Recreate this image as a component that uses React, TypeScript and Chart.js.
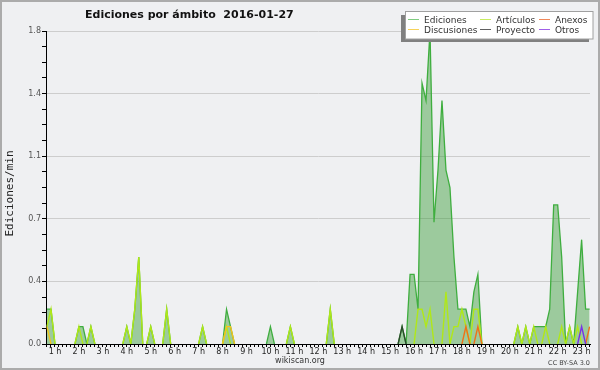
import React, { useEffect, useRef } from 'react';
import { Chart, registerables } from 'chart.js';

Chart.register(...registerables);

const titleText = 'Ediciones por ámbito  2016-01-27';
const yAxisTitle = 'Ediciones/min';
const footerLeft = 'wikiscan.org';
const footerRight = 'CC BY-SA 3.0';

// x tick labels (one every 6 points of 10 minutes)
const hourLabels = [
  '1 h', '2 h', '3 h', '4 h', '5 h', '6 h', '7 h', '8 h', '9 h', '10 h', '11 h', '12 h',
  '13 h', '14 h', '15 h', '16 h', '17 h', '18 h', '19 h', '20 h', '21 h', '22 h', '23 h',
];

// y axis major ticks and labels
const yMajorTicks = [0, 0.36, 0.72, 1.08, 1.44, 1.8];
const yTickLabels = ['0.0', '0.4', '0.7', '1.1', '1.4', '1.8'];

const seriesNames = ['Ediciones', 'Artículos', 'Anexos', 'Discusiones', 'Proyecto', 'Otros'];

// 10-minute samples, edits per minute
const ediciones = [
  0.2, 0.2, 0, 0, 0, 0, 0, 0, 0.1, 0.1, 0, 0.1,
  0, 0, 0, 0, 0, 0, 0, 0, 0.1, 0, 0.2, 0.5,
  0, 0, 0.1, 0, 0, 0, 0.2, 0, 0, 0, 0, 0,
  0, 0, 0, 0.1, 0, 0, 0, 0, 0, 0.2, 0.1, 0,
  0, 0, 0, 0, 0, 0, 0, 0, 0.1, 0, 0, 0,
  0, 0.1, 0, 0, 0, 0, 0, 0, 0, 0, 0, 0.2,
  0, 0, 0, 0, 0, 0, 0, 0, 0, 0, 0, 0,
  0, 0, 0, 0, 0, 0.1, 0, 0.4, 0.4, 0.2, 1.5, 1.4,
  1.8, 0.7, 1.0, 1.4, 1.0, 0.9, 0.5, 0.2, 0.2, 0.2, 0.1, 0.3,
  0.4, 0, 0, 0, 0, 0, 0, 0, 0, 0, 0.1, 0,
  0.1, 0, 0.1, 0.1, 0.1, 0.1, 0.2, 0.8, 0.8, 0.5, 0, 0.1,
  0, 0.3, 0.6, 0.2, 0.2,
];

const articulos = [
  0.1, 0.2, 0, 0, 0, 0, 0, 0, 0.1, 0, 0, 0.1,
  0, 0, 0, 0, 0, 0, 0, 0, 0.1, 0, 0.2, 0.5,
  0, 0, 0.1, 0, 0, 0, 0.2, 0, 0, 0, 0, 0,
  0, 0, 0, 0.1, 0, 0, 0, 0, 0, 0.1, 0, 0,
  0, 0, 0, 0, 0, 0, 0, 0, 0, 0, 0, 0,
  0, 0.1, 0, 0, 0, 0, 0, 0, 0, 0, 0, 0.2,
  0, 0, 0, 0, 0, 0, 0, 0, 0, 0, 0, 0,
  0, 0, 0, 0, 0, 0, 0, 0, 0, 0.2, 0.2, 0.1,
  0.2, 0, 0, 0, 0.3, 0, 0.1, 0.1, 0.2, 0.1, 0, 0.2,
  0.2, 0, 0, 0, 0, 0, 0, 0, 0, 0, 0.1, 0,
  0.1, 0, 0.1, 0, 0, 0.1, 0, 0, 0, 0.1, 0, 0.1,
  0, 0.1, 0, 0, 0,
];

const anexos = [
  0, 0, 0, 0, 0, 0, 0, 0, 0, 0, 0, 0,
  0, 0, 0, 0, 0, 0, 0, 0, 0, 0, 0, 0,
  0, 0, 0, 0, 0, 0, 0, 0, 0, 0, 0, 0,
  0, 0, 0, 0, 0, 0, 0, 0, 0, 0, 0, 0,
  0, 0, 0, 0, 0, 0, 0, 0, 0, 0, 0, 0,
  0, 0, 0, 0, 0, 0, 0, 0, 0, 0, 0, 0,
  0, 0, 0, 0, 0, 0, 0, 0, 0, 0, 0, 0,
  0, 0, 0, 0, 0, 0, 0, 0, 0, 0, 0, 0,
  0, 0, 0, 0, 0, 0, 0, 0, 0, 0.1, 0, 0,
  0.1, 0, 0, 0, 0, 0, 0, 0, 0, 0, 0, 0,
  0, 0, 0, 0, 0, 0, 0, 0, 0, 0, 0, 0,
  0, 0, 0, 0, 0.1,
];

const discusiones = [
  0.1, 0, 0, 0, 0, 0, 0, 0, 0, 0, 0, 0,
  0, 0, 0, 0, 0, 0, 0, 0, 0, 0, 0, 0,
  0, 0, 0, 0, 0, 0, 0, 0, 0, 0, 0, 0,
  0, 0, 0, 0, 0, 0, 0, 0, 0, 0.1, 0.1, 0,
  0, 0, 0, 0, 0, 0, 0, 0, 0, 0, 0, 0,
  0, 0, 0, 0, 0, 0, 0, 0, 0, 0, 0, 0,
  0, 0, 0, 0, 0, 0, 0, 0, 0, 0, 0, 0,
  0, 0, 0, 0, 0, 0, 0, 0, 0, 0, 0, 0,
  0, 0, 0, 0, 0, 0, 0, 0, 0, 0, 0, 0,
  0, 0, 0, 0, 0, 0, 0, 0, 0, 0, 0, 0,
  0, 0, 0, 0, 0, 0, 0, 0, 0, 0, 0, 0,
  0, 0, 0, 0, 0,
];

const proyecto = [
  0, 0, 0, 0, 0, 0, 0, 0, 0, 0, 0, 0,
  0, 0, 0, 0, 0, 0, 0, 0, 0, 0, 0, 0,
  0, 0, 0, 0, 0, 0, 0, 0, 0, 0, 0, 0,
  0, 0, 0, 0, 0, 0, 0, 0, 0, 0, 0, 0,
  0, 0, 0, 0, 0, 0, 0, 0, 0, 0, 0, 0,
  0, 0, 0, 0, 0, 0, 0, 0, 0, 0, 0, 0,
  0, 0, 0, 0, 0, 0, 0, 0, 0, 0, 0, 0,
  0, 0, 0, 0, 0, 0.1, 0, 0, 0, 0, 0, 0,
  0, 0, 0, 0, 0, 0, 0, 0, 0, 0, 0, 0,
  0, 0, 0, 0, 0, 0, 0, 0, 0, 0, 0, 0,
  0, 0, 0, 0, 0, 0, 0, 0, 0, 0, 0, 0,
  0, 0, 0, 0, 0,
];

const otros = [
  0, 0, 0, 0, 0, 0, 0, 0, 0, 0, 0, 0,
  0, 0, 0, 0, 0, 0, 0, 0, 0, 0, 0, 0,
  0, 0, 0, 0, 0, 0, 0, 0, 0, 0, 0, 0,
  0, 0, 0, 0, 0, 0, 0, 0, 0, 0, 0, 0,
  0, 0, 0, 0, 0, 0, 0, 0, 0, 0, 0, 0,
  0, 0, 0, 0, 0, 0, 0, 0, 0, 0, 0, 0,
  0, 0, 0, 0, 0, 0, 0, 0, 0, 0, 0, 0,
  0, 0, 0, 0, 0, 0, 0, 0, 0, 0, 0, 0,
  0, 0, 0, 0, 0, 0, 0, 0, 0, 0, 0, 0,
  0, 0, 0, 0, 0, 0, 0, 0, 0, 0, 0, 0,
  0, 0, 0, 0, 0, 0, 0, 0, 0, 0, 0, 0,
  0, 0, 0.1, 0, 0,
];

const lineColors = ['#3fae3f', '#b0e818', '#f07018', '#f4c41c', '#2b4a2b', '#7832e6'];
const legendColors = ['#80cc80', '#c8ec60', '#f0885a', '#f6d25a', '#606060', '#a060e8'];

const toXY = (arr: number[]) => arr.map((y, x) => ({ x, y }));

const hideZero = {
  borderColor: (c: any) =>
    c.p0.parsed.y === 0 && c.p1.parsed.y === 0 ? 'rgba(0,0,0,0)' : undefined,
};

const decorPlugin = {
  id: 'decor',
  beforeDraw(chart: any) {
    const ctx = chart.ctx;
    ctx.save();
    ctx.fillStyle = '#eff0f2';
    ctx.fillRect(0, 0, chart.width, chart.height);
    ctx.strokeStyle = '#ababab';
    ctx.lineWidth = 2;
    ctx.strokeRect(1, 1, chart.width - 2, chart.height - 2);
    ctx.restore();
  },
  afterDraw(chart: any) {
    const ctx = chart.ctx;
    ctx.save();
    // title
    ctx.fillStyle = '#111';
    ctx.textAlign = 'left';
    ctx.textBaseline = 'alphabetic';
    ctx.font = 'bold 11px "DejaVu Sans"';
    ctx.fillText(titleText, 85, 18);

    // y axis title
    ctx.save();
    ctx.translate(10, 193.5);
    ctx.rotate(-Math.PI / 2);
    ctx.font = '11px "DejaVu Sans Mono"';
    ctx.textAlign = 'center';
    ctx.textBaseline = 'middle';
    ctx.fillStyle = '#222';
    ctx.fillText(yAxisTitle, 0, 0);
    ctx.restore();

    // legend
    ctx.fillStyle = '#808080';
    ctx.fillRect(401, 15, 188, 27);
    ctx.fillStyle = '#ffffff';
    ctx.fillRect(405, 11.5, 188, 27.5);
    ctx.strokeStyle = '#a0a0a0';
    ctx.lineWidth = 1;
    ctx.strokeRect(405.5, 11.5, 187.5, 27.5);
    const colX = [408, 480, 539];
    const rowY = [19, 29];
    ctx.font = '9px "DejaVu Sans"';
    ctx.textBaseline = 'alphabetic';
    seriesNames.forEach((name, i) => {
      const col = i % 3;
      const row = Math.floor(i / 3);
      const x = colX[col];
      const y = rowY[row];
      ctx.strokeStyle = legendColors[i];
      ctx.lineWidth = 1;
      ctx.beginPath();
      ctx.moveTo(x, y + 0.5);
      ctx.lineTo(x + 11, y + 0.5);
      ctx.stroke();
      ctx.fillStyle = '#333';
      ctx.fillText(name, x + 16, y + 3.5);
    });

    // footers
    ctx.fillStyle = '#333';
    ctx.font = '8px "DejaVu Sans"';
    ctx.textAlign = 'center';
    ctx.fillText(footerLeft, 300, 363);
    ctx.font = '6.5px "DejaVu Sans"';
    ctx.textAlign = 'right';
    ctx.fillStyle = '#444';
    ctx.fillText(footerRight, 590, 364.5);
    ctx.restore();
  },
};

export default function App() {
  const ref = useRef<HTMLCanvasElement | null>(null);

  useEffect(() => {
    document.body.style.margin = '0';
    document.body.style.overflow = 'hidden';
    if (!ref.current) return;

    const series = [ediciones, articulos, anexos, discusiones, proyecto, otros];
    const datasets = series.map((arr, i) => ({
      label: seriesNames[i],
      data: toXY(arr),
      borderColor: lineColors[i],
      backgroundColor: i === 0 ? 'rgba(40,150,40,0.42)' : lineColors[i],
      fill: i === 0 ? 'origin' : false,
      borderWidth: i === 0 ? 1.3 : 1.4,
      pointRadius: 0,
      tension: 0,
      order: 6 - i,
      segment: hideZero,
    }));

    const yMinorPerMajor = 4;
    const yAllTicks: number[] = [];
    for (let m = 0; m < yMajorTicks.length - 1; m++) {
      const a = yMajorTicks[m];
      const b = yMajorTicks[m + 1];
      for (let s = 0; s < yMinorPerMajor; s++) yAllTicks.push(a + ((b - a) * s) / yMinorPerMajor);
    }
    yAllTicks.push(yMajorTicks[yMajorTicks.length - 1]);

    const chart = new Chart(ref.current, {
      type: 'line',
      data: { datasets: datasets as any },
      plugins: [decorPlugin],
      options: {
        animation: false,
        responsive: false,
        maintainAspectRatio: false,
        layout: { padding: { top: 31, right: 10, left: 0, bottom: 0 } },
        plugins: {
          legend: { display: false },
          title: { display: false },
          tooltip: { enabled: false },
        },
        scales: {
          x: {
            type: 'linear',
            min: -0.25,
            max: 136.1,
            z: 1,
            afterBuildTicks: (s: any) => {
              s.ticks = ediciones.map((_, i) => ({ value: i }));
            },
            afterFit: (s: any) => {
              s.height = 26;
            },
            grid: {
              display: true,
              drawOnChartArea: false,
              drawTicks: true,
              tickLength: 3,
              tickColor: '#000',
              tickWidth: 1,
            },
            border: { display: true, color: '#000', width: 1 },
            ticks: {
              autoSkip: false,
              maxRotation: 0,
              minRotation: 0,
              padding: 0,
              color: '#222',
              font: { family: 'DejaVu Sans', size: 8 },
              callback: (v: any) => {
                const k = (Number(v) + 4) / 6;
                if (Number.isInteger(k) && k >= 1 && k <= hourLabels.length) return hourLabels[k - 1];
                return '';
              },
            },
          },
          y: {
            type: 'linear',
            min: 0,
            max: 1.8,
            afterBuildTicks: (s: any) => {
              s.ticks = yAllTicks.map((v) => ({ value: v }));
            },
            afterFit: (s: any) => {
              s.width = 46;
            },
            grid: {
              color: (c: any) => (c.index % yMinorPerMajor === 0 ? '#cdcdcd' : 'rgba(0,0,0,0)'),
              tickColor: '#000',
              tickLength: 4,
              drawTicks: true,
            },
            border: { display: true, color: '#000', width: 1 },
            ticks: {
              padding: 1,
              color: '#555',
              font: { family: 'DejaVu Sans', size: 8 },
              callback: (_v: any, i: number) =>
                i % yMinorPerMajor === 0 ? yTickLabels[i / yMinorPerMajor] : '',
            },
          },
        },
      },
    });
    return () => chart.destroy();
  }, []);

  return (
    <div style={{ width: 600, height: 370 }}>
      <canvas ref={ref} width={600} height={370} style={{ display: 'block' }} />
    </div>
  );
}
